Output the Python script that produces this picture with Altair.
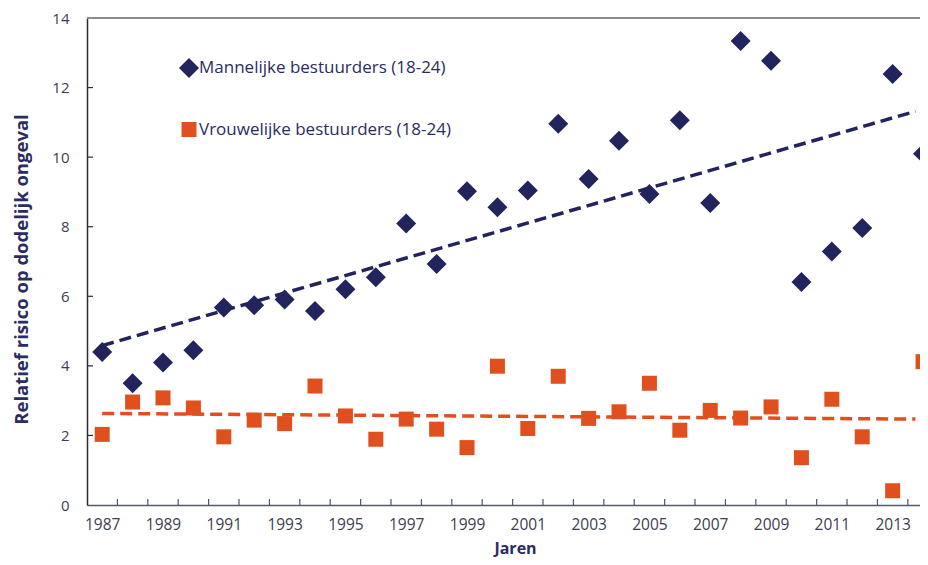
import altair as alt
import pandas as pd

years = list(range(1987, 2015))
male = [4.40, 3.50, 4.10, 4.45, 5.68, 5.74, 5.91, 5.58, 6.20, 6.55,
        8.09, 6.93, 9.02, 8.56, 9.04, 10.96, 9.37, 10.47, 8.94, 11.06,
        8.68, 13.34, 12.77, 6.41, 7.29, 7.96, 12.39, 10.10]
female = [2.03, 2.96, 3.08, 2.79, 1.96, 2.44, 2.34, 3.42, 2.56, 1.89,
          2.47, 2.18, 1.65, 3.99, 2.20, 3.70, 2.49, 2.68, 3.50, 2.15,
          2.72, 2.50, 2.82, 1.36, 3.04, 1.96, 0.41, 4.12]
groups = ["Mannelijke bestuurders (18-24)", "Vrouwelijke bestuurders (18-24)"]
label_years = [y for y in years if y % 2 == 1]
y_ticks = [0, 2, 4, 6, 8, 10, 12, 14]

navy = "#23235e"
orange = "#e0501e"
text_navy = "#2b2c62"
label_grey = "#3d3d4d"
font = "Open Sans"

df = pd.DataFrame({
    "Jaar": years * 2,
    "Risico": male + female,
    "Groep": [groups[0]] * len(years) + [groups[1]] * len(years),
})
df["Maat"] = df["Groep"]
xt = pd.DataFrame({"grens": [y + 0.5 for y in years[:-1]]})
yt = pd.DataFrame({"v": y_ticks[1:-1]})

W, H = 833, 487
xscale = alt.Scale(domain=[1986.5, 2013.9], nice=False, zero=False)
yscale = alt.Scale(domain=[0, 14], nice=False)
cscale = alt.Scale(domain=groups, range=[navy, orange])
sscale = alt.Scale(domain=groups, range=["diamond", "square"])

leg = alt.Legend(title=None, orient="none", legendX=92, legendY=40,
                 direction="vertical", rowPadding=42, labelOffset=0,
                 symbolSize=80, labelFont=font, labelFontSize=17,
                 labelColor=text_navy, labelLimit=400, symbolStrokeWidth=0)

x_axis = alt.Axis(values=label_years, format="d", tickSize=0, labelPadding=12,
                  title="Jaren", titleX=428, titleY=43, titleAlign="center",
                  titleBaseline="middle", titleFont=font, titleFontSize=16,
                  titleFontWeight="bold", titleColor=text_navy,
                  labelFont=font, labelFontSize=15.5, labelColor=label_grey,
                  domainColor="#55586a", domainWidth=1.5, grid=False,
                  labelFlush=False, labelOverlap=False)
y_axis = alt.Axis(values=y_ticks, tickSize=0, labelPadding=18,
                  title="Relatief risico op dodelijk ongeval", titleX=-66,
                  titleY=251, titleAngle=-90, titleAlign="center",
                  titleBaseline="middle", titleFont=font, titleFontSize=18.5,
                  titleFontWeight="bold", titleColor=text_navy,
                  labelFont=font, labelFontSize=15, labelColor=label_grey,
                  domainColor="#2a2a30", domainWidth=1.5, grid=False,
                  labelFlush=False)

base = alt.Chart(df)

trend = base.transform_regression(
    "Jaar", "Risico", groupby=["Groep"], extent=[1987, 2013.75]
).mark_line(strokeDash=[12, 6], strokeWidth=3.5, clip=True).encode(
    x=alt.X("Jaar:Q", scale=xscale, axis=x_axis),
    y=alt.Y("Risico:Q", scale=yscale, axis=y_axis),
    stroke=alt.Stroke("Groep:N", scale=cscale, legend=None),
)

points = base.mark_point(filled=True, opacity=1).encode(
    x=alt.X("Jaar:Q", scale=xscale, axis=x_axis),
    y=alt.Y("Risico:Q", scale=yscale, axis=y_axis),
    color=alt.Color("Groep:N", scale=cscale, legend=leg),
    shape=alt.Shape("Groep:N", scale=sscale, legend=leg),
    size=alt.Size("Maat:N", scale=alt.Scale(domain=groups, range=[400, 225]), legend=None),
)

xticks = alt.Chart(xt).mark_rule(color="#55586a", strokeWidth=1.2).encode(
    x=alt.X("grens:Q", scale=xscale, axis=x_axis),
    y=alt.value(H), y2=alt.value(H - 6),
)
yticks = alt.Chart(yt).mark_rule(color="#2a2a30", strokeWidth=1.2).encode(
    y=alt.Y("v:Q", scale=yscale, axis=y_axis),
    x=alt.value(0), x2=alt.value(6),
)
top_border = alt.Chart(yt).mark_rule(color="#8c8c8c", strokeWidth=1.5).encode(
    x=alt.value(0), x2=alt.value(W), y=alt.value(0),
)

chart = alt.layer(points, trend, xticks, yticks, top_border).properties(
    width=W, height=H,
    autosize=alt.AutoSizeParams(type="none"),
    padding={"left": 79, "top": 10, "right": 0, "bottom": 52},
).configure_view(stroke=None).configure(background="white")

chart.save("out.html", embed_options={"renderer": "svg", "actions": False})
